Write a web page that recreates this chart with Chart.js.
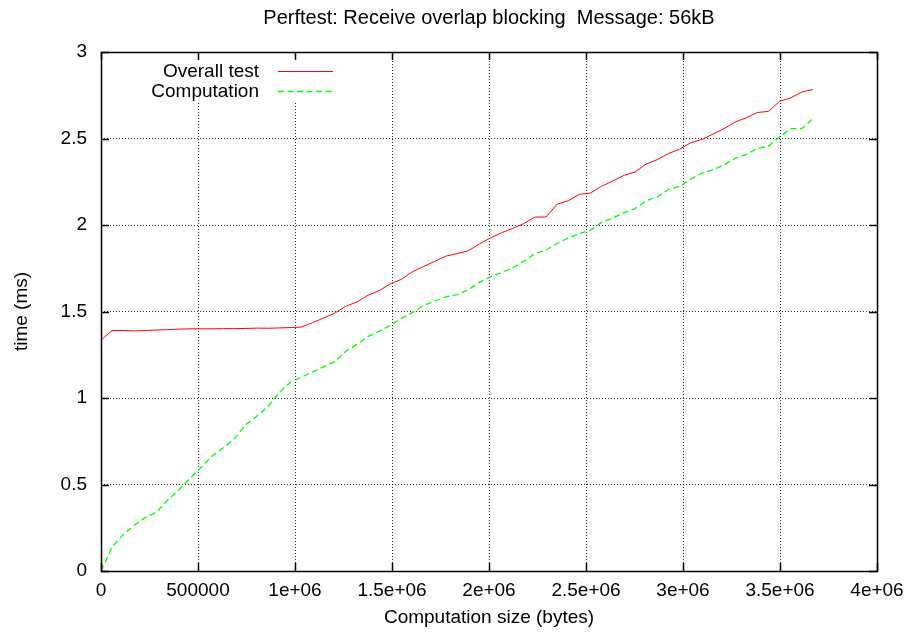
<!DOCTYPE html>
<html>
<head>
<meta charset="utf-8">
<title>Perftest</title>
<script src="https://cdn.jsdelivr.net/npm/chart.js@4/dist/chart.umd.min.js"></script>
<style>
  body { margin: 0; background: #fff; }
  #chart { display: block; }
</style>
</head>
<body>
<canvas id="chart" width="908" height="633"></canvas>
<script>
'use strict';

// computation sizes in bytes (steps of 56kB)
const sizes = [
    0, 57344, 114688, 172032, 229376, 286720, 344064, 401408, 458752, 516096,
    573440, 630784, 688128, 745472, 802816, 860160, 917504, 974848, 1032192, 1089536,
    1146880, 1204224, 1261568, 1318912, 1376256, 1433600, 1490944, 1548288, 1605632, 1662976,
    1720320, 1777664, 1835008, 1892352, 1949696, 2007040, 2064384, 2121728, 2179072, 2236416,
    2293760, 2351104, 2408448, 2465792, 2523136, 2580480, 2637824, 2695168, 2752512, 2809856,
    2867200, 2924544, 2981888, 3039232, 3096576, 3153920, 3211264, 3268608, 3325952, 3383296,
    3440640, 3497984, 3555328, 3612672, 3670016
];

// time in ms for the whole test
const overallTimes = [
    1.335, 1.39, 1.39, 1.388, 1.39, 1.393, 1.395, 1.398, 1.40, 1.40,
    1.40, 1.401, 1.401, 1.402, 1.404, 1.403, 1.405, 1.407, 1.41, 1.435,
    1.462, 1.49, 1.53, 1.555, 1.594, 1.62, 1.66, 1.686, 1.73, 1.76,
    1.79, 1.82, 1.835, 1.85, 1.89, 1.925, 1.955, 1.98, 2.008, 2.046,
    2.046, 2.12, 2.14, 2.177, 2.185, 2.224, 2.254, 2.287, 2.306, 2.352,
    2.378, 2.413, 2.438, 2.475, 2.494, 2.525, 2.557, 2.595, 2.62, 2.65,
    2.657, 2.715, 2.735, 2.769, 2.783
];

// time in ms spent on the computation alone
const computeTimes = [
    0, 0.14, 0.21, 0.265, 0.31, 0.34, 0.41, 0.47, 0.535, 0.60,
    0.665, 0.712, 0.765, 0.845, 0.895, 0.95, 1.03, 1.09, 1.12, 1.15,
    1.18, 1.21, 1.27, 1.31, 1.355, 1.385, 1.42, 1.46, 1.495, 1.535,
    1.56, 1.585, 1.598, 1.625, 1.668, 1.70, 1.725, 1.752, 1.79, 1.835,
    1.855, 1.893, 1.925, 1.95, 1.969, 2.015, 2.04, 2.07, 2.095, 2.14,
    2.162, 2.205, 2.222, 2.265, 2.30, 2.318, 2.348, 2.385, 2.408, 2.443,
    2.455, 2.51, 2.557, 2.557, 2.615
];

const seriesNames = ['Overall test', 'Computation'];
const chartTitle = 'Perftest: Receive overlap blocking  Message: 56kB';
const xTicks = { min: 0, max: 4000000, step: 500000 };
const yTicks = { min: 0, max: 3, step: 0.5 };

const FONT = "'Liberation Sans', Arial, Helvetica, sans-serif";
const FONT_SIZE = 19;

function toPoints(values) {
    return sizes.map((s, i) => ({ x: s, y: values[i] }));
}

// gnuplot style x labels: 0, 500000, 1e+06, 1.5e+06 ...
function formatBytes(v) {
    if (v === 0) return '0';
    if (v < 1000000) return String(v);
    return (v / 1000000) + 'e+06';
}

// title centred over the plot, border, inward ticks on all four sides and the key
const framePlugin = {
    id: 'frame',
    beforeDatasetsDraw(chart) {
        const { ctx, chartArea: a } = chart;
        // the key sits on a blank patch, grid lines stop around it
        ctx.save();
        ctx.fillStyle = '#fff';
        ctx.fillRect(a.left + 40, a.top + 1, 205, 49);
        ctx.restore();
    },
    afterDatasetsDraw(chart) {
        const { ctx, chartArea: a, scales } = chart;
        const tick = 8;
        ctx.save();
        ctx.strokeStyle = '#000';
        ctx.lineWidth = 1.5;
        ctx.beginPath();
        scales.x.ticks.forEach(t => {
            const px = Math.round(scales.x.getPixelForValue(t.value)) + 0.5;
            ctx.moveTo(px, a.bottom); ctx.lineTo(px, a.bottom - tick);
            ctx.moveTo(px, a.top); ctx.lineTo(px, a.top + tick);
        });
        scales.y.ticks.forEach(t => {
            const py = Math.round(scales.y.getPixelForValue(t.value)) + 0.5;
            ctx.moveTo(a.left, py); ctx.lineTo(a.left + tick, py);
            ctx.moveTo(a.right, py); ctx.lineTo(a.right - tick, py);
        });
        ctx.stroke();
        ctx.strokeRect(a.left + 0.5, a.top + 0.5, a.right - a.left, a.bottom - a.top);

        ctx.fillStyle = '#000';
        ctx.textBaseline = 'middle';

        // title
        ctx.font = '20px ' + FONT;
        ctx.textAlign = 'center';
        ctx.fillText(chartTitle, (a.left + a.right) / 2, 18);

        // key
        ctx.font = FONT_SIZE + 'px ' + FONT;
        ctx.textAlign = 'right';
        chart.data.datasets.forEach((ds, i) => {
            const y = a.top + 18.5 + i * 20;
            ctx.fillStyle = '#000';
            ctx.fillText(ds.label, a.left + 158, y + 1);
            ctx.strokeStyle = ds.borderColor;
            ctx.lineWidth = ds.borderWidth;
            ctx.setLineDash(ds.borderDash || []);
            ctx.beginPath();
            ctx.moveTo(a.left + 177, Math.round(y) + 0.5);
            ctx.lineTo(a.left + 232, Math.round(y) + 0.5);
            ctx.stroke();
            ctx.setLineDash([]);
        });
        ctx.restore();
    }
};

function renderChart() {
    Chart.defaults.color = '#000';
    Chart.defaults.font.family = FONT;
    Chart.defaults.font.size = FONT_SIZE;

    const data = {
        datasets: [{
            label: seriesNames[0],
            data: toPoints(overallTimes),
            borderColor: '#ff0000',
            borderWidth: 1,
            pointRadius: 0,
            tension: 0
        }, {
            label: seriesNames[1],
            data: toPoints(computeTimes),
            borderColor: '#00ff00',
            borderWidth: 1.3,
            borderDash: [6, 3.5],
            pointRadius: 0,
            tension: 0
        }]
    };

    const gridLines = {
        color: 'rgba(0, 0, 0, 0.85)',
        lineWidth: 1,
        drawTicks: false
    };

    const config = {
        type: 'line',
        data: data,
        options: {
            responsive: false,
            animation: false,
            devicePixelRatio: 1,
            layout: { padding: { left: 0, right: 31, top: 52, bottom: 0 } },
            plugins: {
                legend: { display: false },
                tooltip: { enabled: false },
                title: { display: false }
            },
            scales: {
                x: {
                    type: 'linear',
                    min: xTicks.min,
                    max: xTicks.max,
                    grid: gridLines,
                    border: { display: false, dash: [1, 2] },
                    ticks: {
                        stepSize: xTicks.step,
                        padding: 8.6,
                        maxRotation: 0,
                        autoSkip: false,
                        callback: v => formatBytes(v)
                    },
                    title: {
                        display: true,
                        text: 'Computation size (bytes)',
                        padding: { top: 0, bottom: 3.6 }
                    },
                    afterFit: scale => {
                        scale.height = 62;
                        // last label may hang past the plot edge
                        scale.paddingLeft = 0;
                        scale.paddingRight = 0;
                    }
                },
                y: {
                    min: yTicks.min,
                    max: yTicks.max,
                    grid: gridLines,
                    border: { display: false, dash: [1, 2] },
                    ticks: {
                        stepSize: yTicks.step,
                        padding: 14,
                        callback: v => String(v)
                    },
                    title: {
                        display: true,
                        text: 'time (ms)',
                        padding: { top: 10.6, bottom: 0 }
                    },
                    afterFit: scale => { scale.width = 101; }
                }
            }
        },
        plugins: [framePlugin]
    };

    const canvasElem = document.getElementById('chart');
    if (canvasElem) {
        new Chart(canvasElem, config);
    }
}

document.addEventListener('DOMContentLoaded', renderChart);
</script>
</body>
</html>
